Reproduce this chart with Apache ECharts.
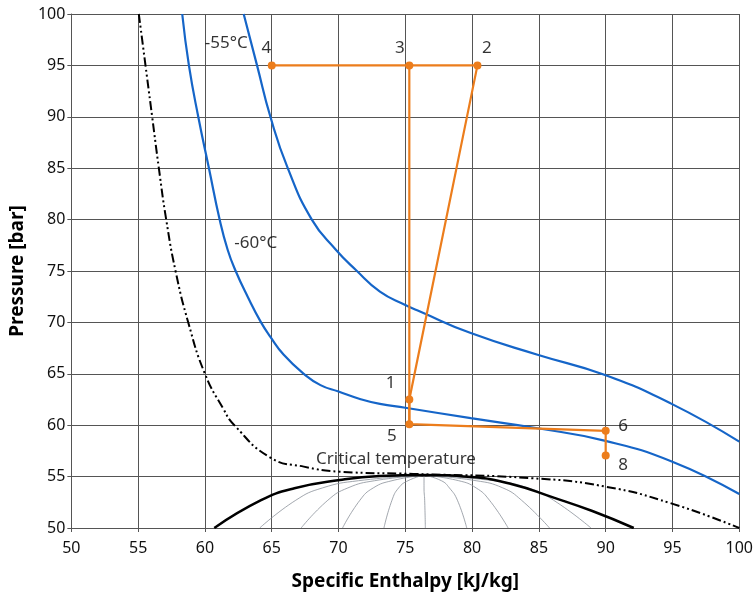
<!DOCTYPE html>
<html>
<head>
<meta charset="utf-8">
<script src="https://cdn.jsdelivr.net/npm/echarts@6/dist/echarts.min.js"></script>
<style>
  html, body { margin: 0; padding: 0; background: #fff; }
  #chart { width: 756px; height: 599px; }
</style>
</head>
<body>
<div id="chart"></div>
<script>
// cycle points [h, p]
const cycle = [[65, 95], [75.3, 95], [80.4, 95], [75.3, 62.5], [75.3, 60.1], [90, 59.45], [90, 57.05]]
const cycleVertical = [[75.3, 95], [75.3, 60.1]]

// isotherms
const iso55 = [[62.9, 100], [63.9, 95], [64.9, 90], [66.2, 85], [68.0, 80], [69.8, 77.07], [71.3, 75.1],
  [73.1, 73.0], [75.0, 71.7], [76.1, 71.06], [79.9, 68.96], [84.9, 66.85], [89.9, 64.9], [94.9, 62.1], [100, 58.4]]
const iso60 = [[58.3, 100], [58.8, 95], [59.5, 90], [60.3, 85], [61.1, 80], [61.7, 77.07], [62.3, 75],
  [63.2, 72.5], [64.2, 70], [64.9, 68.6], [65.9, 66.85], [67.4, 65], [68.65, 63.9], [70.0, 63.27],
  [71.6, 62.55], [73.1, 62.07], [75.0, 61.7], [79.9, 60.68], [84.9, 59.7],
  [89.9, 58.5], [94.9, 56.5], [100, 53.3]]
const critical = [[55.05, 100], [55.55, 95], [56.05, 90], [56.55, 85], [57.1, 80], [57.8, 75], [58.75, 70],
  [60.0, 65], [61.35, 61.65], [62.2, 60], [64.9, 56.85], [67.4, 55.97], [70.1, 55.48], [75.6, 55.26],
  [84.5, 54.84], [90, 54.02], [94.9, 52.4], [100, 50]]

// saturation dome + quality lines
const dome = [[60.7, 50], [64.2, 52.7], [66.7, 53.87], [70.1, 54.67], [73.1, 55.06],
  [76.35, 55.16], [80.0, 54.95], [83.0, 54.25], [86.0, 53.0], [89.0, 51.65], [92.1, 50]]
const qualityLines = [
  [[76.4, 55.15], [71.5, 54.6], [68.8, 53.9], [66.8, 52.7], [64.1, 50]],
  [[76.4, 55.15], [72.7, 54.6], [70.7, 53.9], [69.2, 52.7], [67.2, 50]],
  [[76.4, 55.15], [74.0, 54.6], [72.6, 53.9], [71.6, 52.7], [70.3, 50]],
  [[76.4, 55.15], [75.2, 54.6], [74.5, 53.9], [74.0, 52.7], [73.4, 50]],
  [[76.4, 55.15], [76.4, 53.9], [76.45, 52.7], [76.5, 50]],
  [[76.4, 55.15], [77.7, 54.6], [78.3, 53.9], [78.9, 52.7], [79.6, 50]],
  [[76.4, 55.15], [79.0, 54.6], [80.3, 53.9], [81.3, 52.7], [82.7, 50]],
  [[76.4, 55.15], [80.3, 54.6], [82.3, 53.9], [83.7, 52.7], [85.8, 50]],
  [[76.4, 55.15], [81.6, 54.6], [84.2, 53.9], [86.1, 52.7], [88.9, 50]]
]

// text annotations [h, p, text]
const notes = [[61.6, 97.2, '-55°C'], [63.8, 77.7, '-60°C'], [74.3, 56.7, 'Critical temperature'],
  [64.6, 96.7, '4'], [74.6, 96.7, '3'], [81.1, 96.7, '2'], [73.9, 64.1, '1'],
  [74.0, 58.9, '5'], [91.3, 59.9, '6'], [91.3, 56.1, '8']]

const FONT = 'Noto Sans'
const series = []

function curve(data, color, width, type) {
  return {
    type: 'line', data: data, smooth: 0.5, showSymbol: false,
    lineStyle: {color: color, width: width, type: type || 'solid'}
  }
}

qualityLines.forEach(q => {
  series.push(curve(q, '#8a9199', 0.8))
})
series.push(curve(dome, '#000', 2.5))
series.push(curve(critical, '#000', 2, [9, 3, 2, 3, 2, 3]))
series.push(curve(iso60, '#1565c8', 2.2))
series.push(curve(iso55, '#1565c8', 2.2))
series.push({
  type: 'line', data: cycleVertical, showSymbol: false,
  lineStyle: {color: '#ec7d1c', width: 2.2}
})
series.push({
  type: 'line', data: cycle, symbol: 'circle', symbolSize: 8,
  itemStyle: {color: '#ec7d1c'},
  lineStyle: {color: '#ec7d1c', width: 2.2}
})
series.push({
  type: 'scatter', symbolSize: 0, silent: true,
  itemStyle: {color: '#000'},
  data: notes.map(n => ({value: [n[0], n[1]], name: n[2]})),
  label: {
    show: true, position: 'inside', formatter: p => p.name,
    color: '#000', fontSize: 17, fontFamily: FONT,
    textBorderWidth: 0, textBorderColor: 'transparent'
  }
})

const option = {
  animation: false,
  grid: {left: 69, right: 15, top: 14, bottom: 71},
  xAxis: {
    type: 'value', min: 50, max: 100, interval: 5,
    name: 'Specific Enthalpy [kJ/kg]', nameLocation: 'middle', nameGap: 44,
    nameTextStyle: {fontSize: 19, fontWeight: 'bold', color: '#000', fontFamily: FONT},
    axisLine: {lineStyle: {color: '#555'}},
    axisTick: {show: true, length: 4, lineStyle: {color: '#555'}},
    axisLabel: {fontSize: 16, color: '#111', fontFamily: FONT, margin: 12},
    splitLine: {lineStyle: {color: '#555', width: 1}}
  },
  yAxis: {
    type: 'value', min: 50, max: 100, interval: 5,
    name: 'Pressure [bar]', nameLocation: 'middle', nameGap: 36,
    nameTextStyle: {fontSize: 19, fontWeight: 'bold', color: '#000', fontFamily: FONT},
    axisLine: {show: true, lineStyle: {color: '#555'}},
    axisTick: {show: true, length: 4, lineStyle: {color: '#555'}},
    axisLabel: {fontSize: 16, color: '#111', fontFamily: FONT, margin: 6},
    splitLine: {lineStyle: {color: '#555', width: 1}}
  },
  series: series
}

const myChart = echarts.init(document.getElementById('chart'))
myChart.setOption(option)
</script>
</body>
</html>
